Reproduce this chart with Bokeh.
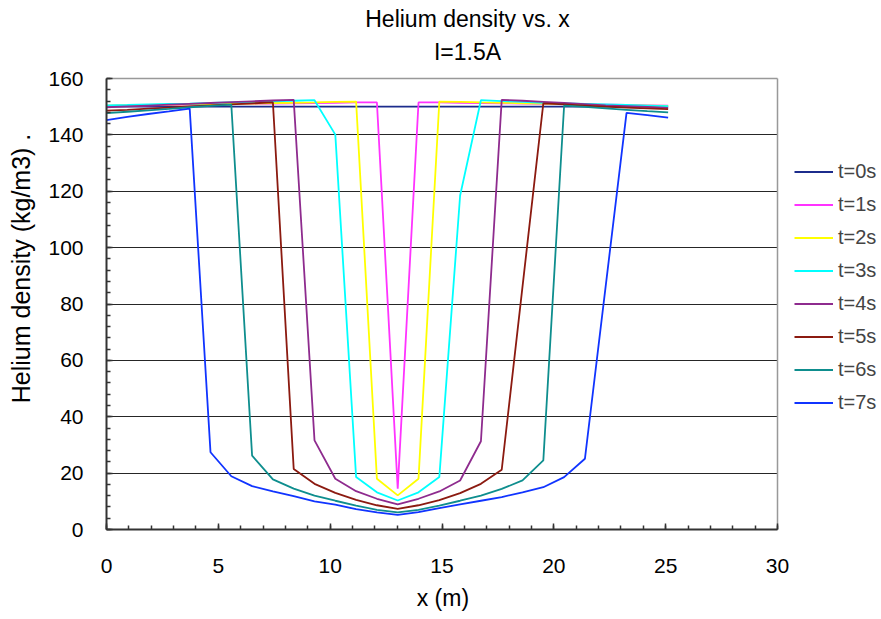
from bokeh.plotting import figure
from bokeh.models import (Range1d, FixedTicker, Legend, LegendItem, ColumnDataSource,
                          Label, Grid)
from bokeh.embed import file_html
from bokeh.resources import INLINE

# ---------------- data ----------------
X_M = [0.00, 0.93, 1.86, 2.79, 3.72, 4.65, 5.58, 6.51, 7.44, 8.37, 9.30, 10.23, 11.16, 12.09,
       13.02, 13.95, 14.88, 15.81, 16.74, 17.67, 18.60, 19.53, 20.46, 21.39, 22.32, 23.25, 24.18, 25.11]

LABELS = ["t=0s", "t=1s", "t=2s", "t=3s", "t=4s", "t=5s", "t=6s", "t=7s"]

T0 = [150.0, 150.0, 150.0, 150.0, 150.0, 150.0, 150.0, 150.0, 150.0, 150.0, 150.0, 150.0, 150.0, 150.0,
      150.0, 150.0, 150.0, 150.0, 150.0, 150.0, 150.0, 150.0, 150.0, 150.0, 150.0, 150.0, 150.0, 150.0]
T1 = [150.3, 150.4, 150.5, 150.6, 150.7, 150.8, 150.9, 151.0, 151.1, 151.2, 151.3, 151.4, 151.5, 151.5,
      14.5, 151.5, 151.5, 151.4, 151.3, 151.2, 151.1, 151.0, 150.9, 150.8, 150.7, 150.6, 150.5, 150.4]
T2 = [150.4, 150.5, 150.6, 150.7, 150.8, 150.9, 151.0, 151.1, 151.3, 151.4, 151.5, 151.7, 151.8, 18.0,
      12.1, 18.0, 151.8, 151.7, 151.5, 151.4, 151.2, 151.1, 150.9, 150.8, 150.6, 150.5, 150.4, 150.3]
T3 = [150.5, 150.6, 150.8, 151.0, 151.1, 151.3, 151.5, 151.7, 151.9, 152.1, 152.3, 140.1, 18.6, 13.2,
      10.3, 13.2, 18.6, 118.5, 152.3, 152.0, 151.7, 151.4, 151.2, 151.0, 150.8, 150.6, 150.4, 150.2]
T4 = [149.8, 150.1, 150.4, 150.7, 151.0, 151.3, 151.6, 151.9, 152.2, 152.4, 31.6, 18.0, 13.6, 10.9,
      8.9, 10.9, 13.5, 17.4, 31.3, 152.4, 152.1, 151.7, 151.3, 150.9, 150.5, 150.2, 149.9, 149.6]
T5 = [148.6, 148.9, 149.3, 149.7, 150.1, 150.5, 150.8, 151.2, 151.5, 21.5, 16.2, 13.0, 10.5, 8.6,
      7.3, 8.6, 10.4, 12.9, 16.2, 21.2, None, 151.2, 150.8, 150.4, 150.0, 149.7, 149.4, 149.1]
T6 = [147.7, 148.2, 148.7, 149.2, 149.8, 150.3, 150.7, 26.2, 17.8, 14.5, 12.0, 10.2, 8.5, 7.0,
      6.1, 7.0, 8.5, 10.2, 12.0, 14.4, 17.4, 24.5, 150.4, 149.9, 149.4, 148.9, 148.4, 148.0]
T7 = [145.2, 146.4, 147.4, 148.3, 149.3, 27.4, 18.9, 15.4, 13.5, 11.8, 10.0, 8.8, 7.2, 6.1,
      5.2, 6.2, 7.6, 8.9, 10.2, 11.5, 13.2, 15.0, 18.6, 25.1, None, 147.8, 147.0, 146.1]

SERIES = [T0, T1, T2, T3, T4, T5, T6, T7]
COLORS = ["#1C2C8C", "#FF33FF", "#FFFF00", "#00FFFF", "#8E2B8E", "#8B1A10", "#0E8E8E", "#1034FF"]

X_MIN, X_MAX = 0, 30
Y_MIN, Y_MAX = 0, 160
X_TICKS = [0, 5, 10, 15, 20, 25, 30]
X_MINOR = list(range(0, 31))
Y_TICKS = [0, 20, 40, 60, 80, 100, 120, 140, 160]
Y_MINOR = list(range(0, 161, 4))
Y_GRID = [20, 40, 60, 80, 100, 120, 140]

TITLE_LINES = ["Helium density vs. x", "I=1.5A"]

FONT = "Liberation Sans"

# ---------------- layout geometry (pixels) ----------------
W, H = 881, 619
LEFT, BOTTOM = 106, 90
PLOT_W, PLOT_H = 671, 451          # visible chart area (x 0..30, y 0..160)
FRAME_W, FRAME_H = W - LEFT, H - BOTTOM   # frame also spans the title and legend area

# the frame extends past the chart area, so the ranges extend proportionally
x_end = X_MAX * FRAME_W / PLOT_W
y_end = Y_MAX * FRAME_H / PLOT_H

p = figure(width=W, height=H, output_backend="svg", toolbar_location=None,
           x_range=Range1d(X_MIN, x_end), y_range=Range1d(Y_MIN, y_end),
           min_border_left=LEFT, min_border_right=0, min_border_top=0,
           min_border_bottom=BOTTOM)
p.background_fill_color = "white"
p.border_fill_color = "white"
p.outline_line_color = None

items = []
for lab, ys, col in zip(LABELS, SERIES, COLORS):
    xs = [x for x, y in zip(X_M, ys) if y is not None]
    yv = [y for y in ys if y is not None]
    src = ColumnDataSource(dict(x=xs, y=yv))
    r = p.line("x", "y", source=src, line_color=col, line_width=1.8)
    items.append(LegendItem(label=lab, renderers=[r]))

for ax in (p.xaxis[0], p.yaxis[0]):
    ax.axis_line_color = "#333333"
    ax.axis_line_width = 2
    ax.major_tick_line_color = "#333333"
    ax.minor_tick_line_color = "#333333"
    ax.major_tick_line_width = 1.5
    ax.minor_tick_line_width = 1.5
    ax.major_tick_in = 6
    ax.major_tick_out = 0
    ax.minor_tick_in = 4
    ax.minor_tick_out = 0
    ax.major_label_text_font = FONT
    ax.major_label_text_font_size = "21px"
    ax.major_label_text_color = "black"
    ax.axis_label_text_font = FONT
    ax.axis_label_text_font_style = "normal"
    ax.axis_label_text_color = "black"

p.xaxis.bounds = (X_MIN, X_MAX)
p.yaxis.bounds = (Y_MIN, Y_MAX)
p.xaxis.ticker = FixedTicker(ticks=X_TICKS, minor_ticks=X_MINOR)
p.yaxis.ticker = FixedTicker(ticks=Y_TICKS, minor_ticks=Y_MINOR)
p.xaxis.major_label_standoff = 29
p.yaxis.major_label_standoff = 23
# trailing no-break spaces keep the centred label under the chart area, not the wider frame
p.xaxis.axis_label = "x (m)" + "\u00a0" * 16
p.xaxis.axis_label_text_font_size = "23px"
p.xaxis.axis_label_standoff = 9
p.yaxis.axis_label = "Helium density (kg/m3)  ."
p.yaxis.axis_label_text_font_size = "25px"
p.yaxis.axis_label_standoff = 10

# horizontal grid lines limited to the chart area
p.xgrid.visible = False
p.ygrid.ticker = FixedTicker(ticks=Y_GRID)
p.ygrid.cross_bounds = (X_MIN, X_MAX)
p.ygrid.grid_line_color = "black"
p.ygrid.grid_line_width = 1
p.ygrid.grid_line_alpha = 0.85

# grey top and right border of the chart area
p.add_layout(Grid(dimension=1, ticker=FixedTicker(ticks=[Y_MAX]), cross_bounds=(X_MIN, X_MAX),
                  grid_line_color="#999999", grid_line_width=1.5))
p.add_layout(Grid(dimension=0, ticker=FixedTicker(ticks=[X_MAX]), cross_bounds=(Y_MIN, Y_MAX),
                  grid_line_color="#999999", grid_line_width=1.5))

# titles (screen units, measured from the frame's bottom-left)
for txt, y_top in zip(TITLE_LINES, [18, 51]):
    p.add_layout(Label(x=467 - LEFT, y=FRAME_H - y_top, x_units="screen", y_units="screen",
                       text=txt, text_align="center", text_baseline="middle",
                       text_font=FONT, text_font_size="23px", text_color="black"))

legend = Legend(items=items, location=(688, 115), orientation="vertical",
                label_text_font=FONT, label_text_font_size="20px",
                glyph_width=39, glyph_height=23, label_height=23, label_standoff=5,
                spacing=10, padding=0, margin=0,
                border_line_color=None, background_fill_alpha=0)
p.add_layout(legend)

open("out.html", "w").write(file_html(p, INLINE))
